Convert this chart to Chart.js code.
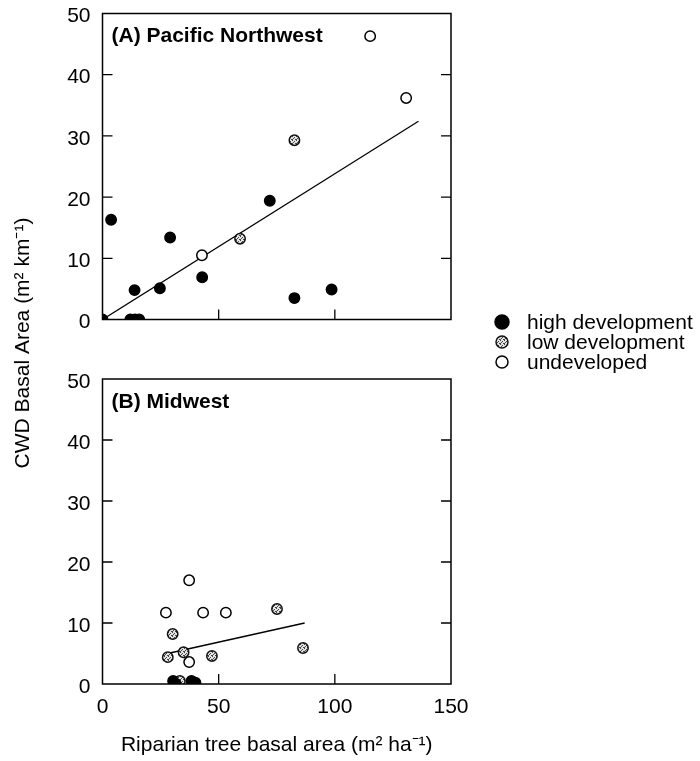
<!DOCTYPE html>
<html><head><meta charset="utf-8">
<script src="https://cdn.jsdelivr.net/npm/chart.js@4.4.0/dist/chart.umd.min.js"></script>
<style>
html,body{margin:0;padding:0;background:#fff;}
#wrap{position:relative;width:700px;height:761px;}
canvas{position:absolute;left:0;top:0;}
</style></head><body>
<div id="wrap"><canvas id="cA" width="700" height="761"></canvas><canvas id="cB" width="700" height="761"></canvas></div>
<script>
// ---- data ----
const categories = ['high development', 'low development', 'undeveloped'];
const panelTitles = ['(A) Pacific Northwest', '(B) Midwest'];
const xTickValues = [0, 50, 100, 150];
const yTickValues = [0, 10, 20, 30, 40, 50];
const xTitle = 'Riparian tree basal area (m\u00B2 ha\u207B\u00B9)';
const yTitle = 'CWD Basal Area (m\u00B2 km\u207B\u00B9)';

const pnwHighX = [0, 3.7, 12, 14, 15.8, 13.8, 24.7, 29.1, 42.9, 72.0, 82.6, 98.6];
const pnwHighY = [0, 16.3, 0, 0, 0, 4.8, 5.1, 13.4, 6.9, 19.4, 3.5, 4.9];
const pnwLowX = [59.2, 82.6];
const pnwLowY = [13.2, 29.3];
const pnwUndevX = [42.8, 115.2, 130.7];
const pnwUndevY = [10.5, 46.3, 36.2];
const pnwFitX = [0, 136];
const pnwFitY = [0, 32.4];

const mwHighX = [30.4, 31.5, 38.3, 40.0];
const mwHighY = [0.5, 0, 0.5, 0.2];
const mwLowX = [75.1, 30.2, 28.1, 34.9, 47.1, 86.3, 33.3];
const mwLowY = [12.3, 8.2, 4.4, 5.2, 4.6, 5.9, 0.5];
const mwUndevX = [37.3, 27.3, 43.3, 53.1, 37.3];
const mwUndevY = [17.0, 11.7, 11.7, 11.7, 3.6];
const mwFitX = [28, 87];
const mwFitY = [5.0, 10.0];

// ---- styles ----
const FONT = '"Liberation Sans", Arial, Helvetica, sans-serif';
const pc = document.createElement('canvas'); pc.width = 4; pc.height = 4;
const pcx = pc.getContext('2d');
pcx.fillStyle = '#e4e4e4'; pcx.fillRect(0, 0, 4, 4);
pcx.fillStyle = '#444';
[[0,0],[2,1],[1,2],[3,3],[0,3]].forEach(p => pcx.fillRect(p[0], p[1], 1, 1));
const stipple = pcx.createPattern(pc, 'repeat');

const seriesStyle = [
  {bg: '#000', border: '#000'},
  {bg: stipple, border: '#111'},
  {bg: '#fff', border: '#000'}
];

const pts = (xs, ys) => xs.map((x, i) => ({x: x, y: ys[i]}));

function pointSet(label, xs, ys, k) {
  return {
    label: label, data: pts(xs, ys),
    backgroundColor: seriesStyle[k].bg, borderColor: seriesStyle[k].border,
    borderWidth: 1.5, pointRadius: 5.2, pointHoverRadius: 5.2, order: 0
  };
}
function fitSet(xs, ys) {
  return {
    label: 'fit', data: pts(xs, ys), showLine: true, pointRadius: 0,
    borderColor: '#000', borderWidth: 1.3, order: 5, isFit: true
  };
}

const framePlugin = {
  id: 'frame',
  afterDatasetsDraw(chart, args, opts) {
    const ctx = chart.ctx, a = chart.chartArea;
    const xs = chart.scales.x, ys = chart.scales.y;
    ctx.save();
    ctx.strokeStyle = '#000'; ctx.lineWidth = 1.5;
    ctx.strokeRect(a.left, a.top, a.right - a.left, a.bottom - a.top);
    ctx.lineWidth = 1.3;
    const TL = 10;
    yTickValues.slice(1, -1).forEach(v => {
      const p = ys.getPixelForValue(v);
      ctx.beginPath(); ctx.moveTo(a.left, p); ctx.lineTo(a.left + TL, p);
      ctx.moveTo(a.right, p); ctx.lineTo(a.right - TL, p); ctx.stroke();
    });
    xTickValues.slice(1, -1).forEach(v => {
      const p = xs.getPixelForValue(v);
      ctx.beginPath(); ctx.moveTo(p, a.bottom); ctx.lineTo(p, a.bottom - TL); ctx.stroke();
    });
    // panel title
    ctx.fillStyle = '#000';
    ctx.font = 'bold 21px ' + FONT;
    ctx.textBaseline = 'middle'; ctx.textAlign = 'left';
    ctx.fillText(opts.title, a.left + 9, a.top + 23);
    if (opts.decor) {
      // y title
      ctx.save();
      ctx.translate(23, 343); ctx.rotate(-Math.PI / 2);
      ctx.font = '21px ' + FONT; ctx.textAlign = 'center'; ctx.textBaseline = 'middle';
      ctx.fillText(yTitle, 0, 0);
      ctx.restore();
      // legend
      const sets = chart.data.datasets.filter(d => !d.isFit);
      sets.forEach((d, i) => {
        const y = 322 + i * 20;
        ctx.beginPath(); ctx.arc(502, y, i === 0 ? 7 : 6, 0, Math.PI * 2);
        ctx.fillStyle = d.backgroundColor; ctx.fill();
        ctx.lineWidth = 1.5; ctx.strokeStyle = d.borderColor; ctx.stroke();
        ctx.fillStyle = '#000'; ctx.font = '21px ' + FONT;
        ctx.textAlign = 'left'; ctx.textBaseline = 'middle';
        ctx.fillText(d.label, 527, y + 1);
      });
    }
    ctx.restore();
  }
};

function makePanel(id, datasets, title, isTop) {
  return new Chart(document.getElementById(id), {
    type: 'scatter',
    data: {datasets: datasets},
    options: {
      responsive: false, animation: false, events: [],
      layout: {padding: {left: 0, right: 249, top: isTop ? 13.5 : 379, bottom: isTop ? 441.5 : 0}},
      plugins: {legend: {display: false}, tooltip: {enabled: false}, frame: {title: title, decor: isTop}},
      scales: {
        x: {
          type: 'linear', min: xTickValues[0], max: xTickValues[xTickValues.length - 1],
          grid: {display: false, drawTicks: false}, border: {display: false},
          ticks: {display: !isTop, stepSize: 50, color: '#000', padding: 11, font: {family: FONT, size: 21}},
          title: {display: !isTop, text: xTitle, color: '#000', font: {family: FONT, size: 21}, padding: {top: 0, bottom: 3.4}},
          afterFit: s => { s.height = isTop ? 0 : 77; s.paddingLeft = 0; s.paddingRight = 0; }
        },
        y: {
          type: 'linear', min: yTickValues[0], max: yTickValues[yTickValues.length - 1],
          grid: {display: false, drawTicks: false}, border: {display: false},
          ticks: {stepSize: 10, color: '#000', padding: 12, labelOffset: 3, font: {family: FONT, size: 21}},
          afterFit: s => { s.width = 102.5; s.paddingTop = 0; s.paddingBottom = 0; }
        }
      }
    },
    plugins: [framePlugin]
  });
}

makePanel('cA', [
  pointSet(categories[0], pnwHighX, pnwHighY, 0),
  pointSet(categories[1], pnwLowX, pnwLowY, 1),
  pointSet(categories[2], pnwUndevX, pnwUndevY, 2),
  fitSet(pnwFitX, pnwFitY)
], panelTitles[0], true);

makePanel('cB', [
  pointSet(categories[0], mwHighX, mwHighY, 0),
  pointSet(categories[1], mwLowX, mwLowY, 1),
  pointSet(categories[2], mwUndevX, mwUndevY, 2),
  fitSet(mwFitX, mwFitY)
], panelTitles[1], false);
</script>
</body></html>
